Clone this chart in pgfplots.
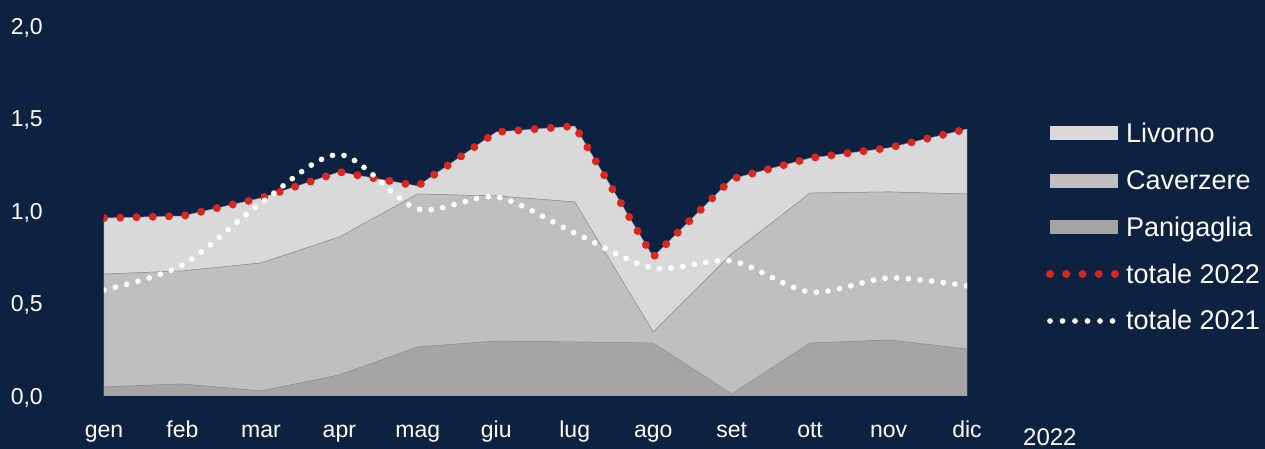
\documentclass[border=0pt]{standalone}
\usepackage{pgfplots}
\usepackage{pgfplotstable}
\pgfplotsset{compat=1.18}
\usepackage{fontspec}
\setmainfont{Liberation Sans}
\definecolor{navy}{RGB}{13,34,64}
\definecolor{redd}{RGB}{217,38,30}
\definecolor{livc}{RGB}{217,217,217}
\definecolor{cavc}{RGB}{191,191,191}
\definecolor{panc}{RGB}{165,165,165}
\definecolor{edgec}{RGB}{140,150,165}

\pgfplotstableread{
x pan cav liv tot22 tot21
0  0.049 0.610 0.303 0.962 0.573
1  0.065 0.611 0.297 0.973 0.708
2  0.027 0.692 0.351 1.070 1.043
3  0.114 0.745 0.352 1.211 1.305
4  0.265 0.827 0.043 1.135 1.011
5  0.297 0.784 0.346 1.427 1.076
6  0.292 0.757 0.410 1.459 0.881
7  0.286 0.060 0.405 0.751 0.692
8  0.011 0.757 0.405 1.173 0.730
9  0.286 0.811 0.189 1.286 0.562
10 0.303 0.800 0.238 1.341 0.638
11 0.254 0.838 0.351 1.443 0.595
}\data

\pgfplotsset{
  common/.style={
    at={(0pt,0pt)}, anchor=south west,
    scale only axis, width=863pt, height=370pt,
    xmin=0, xmax=11, ymin=0, ymax=2,
  }
}

\begin{document}
\begin{tikzpicture}
\fill[navy] (-104pt,-53pt) rectangle (1161pt,396pt);
\begin{axis}[
  common,
  stack plots=y,
  axis line style={draw=none},
  major tick length=0pt,
  xtick={0,...,11},
  xticklabels={gen,feb,mar,apr,mag,giu,lug,ago,set,ott,nov,dic},
  ytick={0,0.5,1,1.5,2},
  ticklabel style={text=white, font=\fontsize{23}{27}\selectfont},
  xticklabel style={anchor=base, yshift=-41.5pt},
  yticklabel style={anchor=base east, xshift=-57.7pt, yshift=-8.2pt,
    /pgf/number format/.cd, fixed, fixed zerofill, precision=1, use comma},
  /pgf/number format/assume math mode=true,
]
\addplot[fill=panc, draw=edgec, line width=0.5pt] table[x=x,y=pan]{\data} \closedcycle;
\addplot[fill=cavc, draw=edgec, line width=0.5pt] table[x=x,y=cav]{\data} \closedcycle;
\addplot[fill=livc, draw=edgec, line width=0.5pt] table[x=x,y=liv]{\data} \closedcycle;
\end{axis}
\begin{axis}[common, hide axis]
\addplot[redd, line width=8pt, line cap=round, dash pattern=on 0pt off 16.25pt] table[x=x,y=tot22]{\data};
\addplot[white, line width=5.7pt, line cap=round, dash pattern=on 0pt off 11.7pt, smooth] table[x=x,y=tot21]{\data};
\end{axis}
% legend
\fill[livc] (946pt,256pt) rectangle (1014pt,270pt);
\fill[cavc] (946pt,208pt) rectangle (1014pt,222pt);
\fill[panc] (946pt,161.5pt) rectangle (1014pt,175.5pt);
\draw[redd, line width=8pt, line cap=round, dash pattern=on 0pt off 16.25pt] (946pt,122pt) -- (1011.5pt,122pt);
\draw[white, line width=5.7pt, line cap=round, dash pattern=on 0pt off 12.5pt] (946pt,75pt) -- (1009pt,75pt);
\begin{scope}[every node/.style={anchor=base west, inner sep=0pt, text=white, font=\fontsize{27}{31}\selectfont}]
\node at (1022pt,253.7pt) {Livorno};
\node at (1022pt,206.5pt) {Caverzere};
\node at (1022pt,159.5pt) {Panigaglia};
\node at (1022pt,112.8pt) {totale 2022};
\node at (1022pt,66.2pt) {totale 2021};
\end{scope}
\node[anchor=base west, inner sep=0pt, text=white, font=\fontsize{24}{28}\selectfont] at (919pt,-49.3pt) {2022};
\pgfresetboundingbox
\useasboundingbox (-104pt,-53pt) rectangle (1161pt,396pt);
\end{tikzpicture}
\end{document}
